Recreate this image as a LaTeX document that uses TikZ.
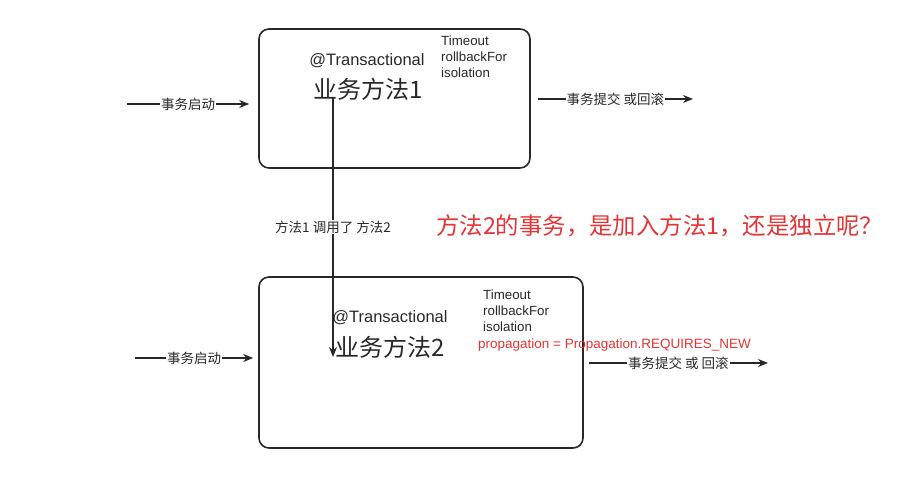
\documentclass[tikz,border=0pt]{standalone}
\usepackage{fontspec}
\setmainfont{Liberation Sans}
\newfontfamily\cjk{Noto Sans CJK SC}
\usepackage{tikz}
\usetikzlibrary{arrows.meta, calc, positioning}

\definecolor{inkgray}{RGB}{40,40,40}
\definecolor{askred}{RGB}{228,52,52}

\tikzset{
    methodbox/.style={draw=inkgray, line width=1.6pt, rounded corners=10pt, inner sep=0pt},
    flow/.style={draw=inkgray, line width=1.5pt, -{Stealth[length=10pt,width=8pt]}},
    flowlabel/.style={fill=white, inner sep=1pt, text=inkgray, font=\cjk\fontsize{13.5}{15}\selectfont},
    annot/.style={text=inkgray, font=\fontsize{16.5}{18}\selectfont, inner sep=0pt},
    methodname/.style={text=inkgray, font=\cjk\fontsize{24}{26}\selectfont, inner sep=0pt},
    attrs/.style={text=inkgray, font=\fontsize{13.3}{16}\selectfont, align=left, inner sep=0pt, anchor=north west}
}

\begin{document}
\begin{tikzpicture}[x=1pt, y=-1pt]
            \useasboundingbox (0,0) rectangle (906,492);

            % Draw method boxes
            \node[methodbox, minimum width=271pt, minimum height=139pt] (m1) at (394.5,98.5) {};
            \node[methodbox, minimum width=324pt, minimum height=171pt] (m2) at (421,362.5) {};

            % Texts of method 1
            \node[annot] (tx1) at (367,61) {@Transactional};
            \node[methodname] (name1) at (368,89) {业务方法1};
            \node[attrs] (attr1) at (441,36) {Timeout\\rollbackFor\\isolation};

            % Texts of method 2
            \node[annot] (tx2) at (390,318) {@Transactional};
            \node[methodname] (name2) at (390,347) {业务方法2};
            \node[attrs] (attr2) at (483,290) {Timeout\\rollbackFor\\isolation};
            \node[text=askred, font=\fontsize{13.5}{16}\selectfont, inner sep=0pt, anchor=west] (prop) at (478,345) {propagation = Propagation.REQUIRES\_NEW};

            % Draw transaction flows
            \coordinate (in1) at (127,104);
            \coordinate (out1) at (693,99);
            \coordinate (in2) at (135,358);
            \coordinate (out2) at (768,363);
            \draw[flow] (in1) -- node[flowlabel, pos=0.5] (start1) {事务启动} ($(m1.west |- in1)+(-9,0)$);
            \draw[flow] ($(m1.east |- out1)+(7,0)$) -- node[flowlabel, pos=0.5] (end1) {事务提交 或回滚} (out1);
            \draw[flow] (in2) -- node[flowlabel, pos=0.5] (start2) {事务启动} ($(m2.west |- in2)+(-5,0)$);
            \draw[flow] ($(m2.east |- out2)+(5,0)$) -- node[flowlabel, pos=0.5] (end2) {事务提交 或 回滚} (out2);

            % Draw the call from method 1 to method 2
            \coordinate (call1) at (333,97);
            \coordinate (call2) at (333,357);
            \draw[flow] (call1) -- node[flowlabel, pos=0.5] (calls) {方法1 调用了 方法2} (call2);

            % The open question
            \node[text=askred, font=\cjk\fontsize{23.4}{26}\selectfont, inner sep=0pt, anchor=west] (ask) at (436,226) {方法2的事务，是加入方法1，还是独立呢？};
        \end{tikzpicture}
\end{document}
